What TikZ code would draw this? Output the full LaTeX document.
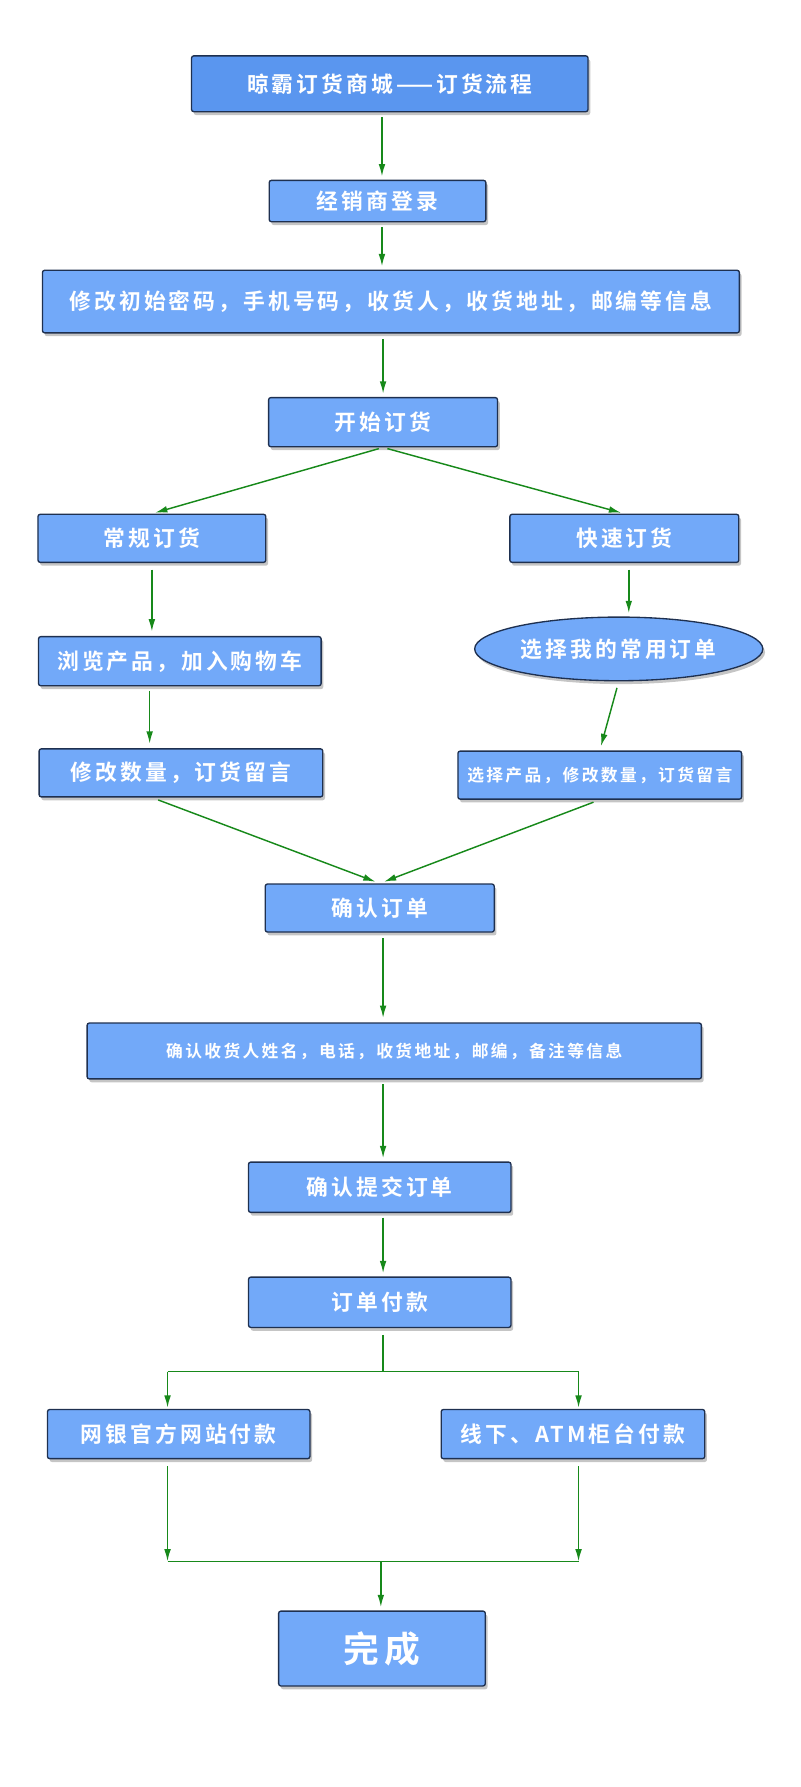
\documentclass[tikz,border=0pt]{standalone}
\usepackage{fontspec}
\newfontfamily\cjk[LetterSpace=14]{Noto Sans CJK SC Bold}
\usetikzlibrary{shadows,arrows.meta,shapes.geometric}
\definecolor{boxblue}{HTML}{72A9F9}
\definecolor{titleblue}{HTML}{5A96EF}
\definecolor{rimblue}{HTML}{1E3050}
\definecolor{flowgreen}{HTML}{17891A}
\tikzset{
  stage/.style={rectangle, rounded corners=2pt, fill=boxblue, draw=rimblue, line width=1.2pt,
    drop shadow={shadow xshift=2pt, shadow yshift=-3pt, fill=black!45},
    text=white, font=\cjk\fontsize{19.5}{22}\selectfont, inner sep=0pt},
  small/.style={font=\cjk\fontsize{15}{18}\selectfont},
  flow/.style={draw=flowgreen, line width=1.3pt, -{Latex[length=11pt,width=6pt]}},
  line/.style={draw=flowgreen, line width=1.3pt},
}
\begin{document}
\begin{tikzpicture}[x=1pt,y=-1pt]
  \useasboundingbox (0,0) rectangle (717,1600);
  % boxes
  \node[stage, fill=titleblue, minimum width=355, minimum height=50] (title) at (349,75) {晾霸订货商城——订货流程};
  \node[stage, minimum width=194, minimum height=37] (login) at (338,180) {经销商登录};
  \node[stage, minimum width=624, minimum height=56] (info) at (350,270) {修改初始密码，手机号码，收货人，收货地址，邮编等信息};
  \node[stage, minimum width=205, minimum height=44] (start) at (343,378) {开始订货};
  \node[stage, minimum width=204, minimum height=43] (normal) at (136,482) {常规订货};
  \node[stage, minimum width=205, minimum height=43] (quick) at (559,482) {快速订货};
  \node[stage, minimum width=253, minimum height=44] (browse) at (161,592) {浏览产品，加入购物车};
  \node[stage, ellipse, minimum width=258, minimum height=57] (common) at (554,581) {选择我的常用订单};
  \node[stage, minimum width=254, minimum height=43] (amount) at (162,692) {修改数量，订货留言};
  \node[stage, small, minimum width=254, minimum height=43] (pick) at (537,694) {选择产品，修改数量，订货留言};
  \node[stage, minimum width=205, minimum height=43] (confirm) at (340,813) {确认订单};
  \node[stage, small, minimum width=550, minimum height=50] (receiver) at (353,941) {确认收货人姓名，电话，收货地址，邮编，备注等信息};
  \node[stage, minimum width=235, minimum height=45] (submit) at (340,1063) {确认提交订单};
  \node[stage, minimum width=235, minimum height=45] (pay) at (340,1166) {订单付款};
  \node[stage, minimum width=235, minimum height=44] (online) at (160,1284) {网银官方网站付款};
  \node[stage, minimum width=236, minimum height=44] (offline) at (513,1284) {线下、ATM柜台付款};
  \node[stage, font=\cjk\fontsize{32}{36}\selectfont, minimum width=185, minimum height=67] (done) at (342,1476) {完成};
  % branch points
  \coordinate (payL) at (150,1228);
  \coordinate (payR) at (518,1228);
  \coordinate (endL) at (150,1398);
  \coordinate (endR) at (518,1398);
  \coordinate (endM) at (341,1398);
  % connectors
  \draw[flow, shorten <=4pt, shorten >=3pt] (title.south -| 342,0) -- (login.north -| 342,0);
  \draw[flow, shorten <=4pt, shorten >=3pt] (login.south -| 342,0) -- (info.north -| 342,0);
  \draw[flow, shorten <=5pt, shorten >=3pt] (info.south -| start) -- (start);
  \draw[flow, shorten <=4pt, shorten >=3pt] (start.south) -- (normal.north);
  \draw[flow, shorten <=4pt, shorten >=3pt] (start.south) -- (quick.north);
  \draw[flow, shorten <=6pt, shorten >=4pt] (normal.south) -- (browse.north -| normal);
  \draw[flow, shorten <=6pt, shorten >=3pt] (quick.south -| 563,0) -- (common.north -| 563,0);
  \draw[flow, shorten <=4pt, shorten >=4pt] (browse.south -| 134,0) -- (amount.north -| 134,0);
  \draw[flow, shorten <=6pt, shorten >=4pt] (common.south) -- (pick.north);
  \draw[flow, shorten <=6pt, shorten >=4pt] (amount.south -| 136,0) -- (confirm.north);
  \draw[flow, shorten <=6pt, shorten >=4pt] (pick.south) -- (confirm.north);
  \draw[flow, shorten <=5pt, shorten >=4pt] (confirm.south -| 343,0) -- (receiver.north -| 343,0);
  \draw[flow, shorten <=4pt, shorten >=3pt] (receiver.south -| 343,0) -- (submit.north -| 343,0);
  \draw[flow, shorten <=4pt, shorten >=3pt] (submit.south -| 343,0) -- (pay.north -| 343,0);
  \draw[line, shorten <=6pt] (pay.south -| 343,0) -- (payL -| 343,0);
  \draw[line] (payL) -- (payR);
  \draw[flow, shorten >=1pt] (payL) -- (online.north -| payL);
  \draw[flow, shorten >=1pt] (payR) -- (offline.north -| payR);
  \draw[flow, shorten <=6pt] (online.south -| endL) -- (endL);
  \draw[flow, shorten <=6pt] (offline.south -| endR) -- (endR);
  \draw[line] (endL) -- (endR);
  \draw[flow, shorten >=3pt] (endM) -- (done.north -| endM);
\end{tikzpicture}
\end{document}
